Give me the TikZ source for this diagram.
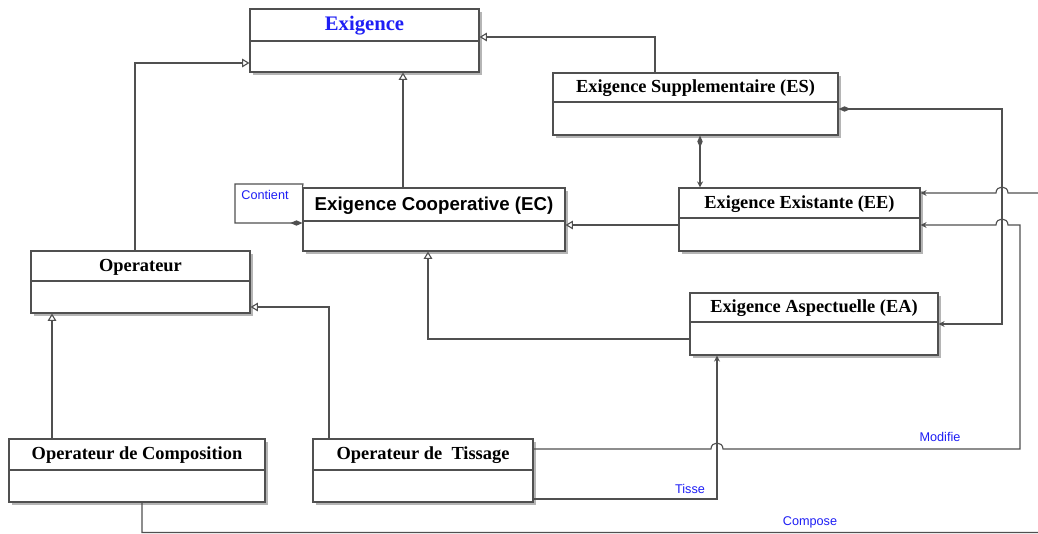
\documentclass[tikz,border=0pt]{standalone}
\usepackage{fontspec}
\setmainfont{Liberation Serif}
\newfontfamily\arialf{Liberation Sans}
\usetikzlibrary{arrows.meta,fit}
\definecolor{linec}{HTML}{505050}
\definecolor{shadowc}{HTML}{B5B5B5}
\definecolor{bluet}{HTML}{1E1EF5}
\tikzset{
  classbox/.style={draw=linec, line width=0.85pt, fill=white, inner sep=0pt},
  conn/.style={draw=linec, line width=0.85pt},
  gen/.style={conn, -{Triangle[open, length=5.5pt, width=6.5pt, fill=white]}},
  nav/.style={conn, -{Stealth[length=4.5pt, width=4.5pt]}},
  compnav/.style={conn, {Diamond[length=9pt, width=4pt]}-{Stealth[length=4.5pt, width=4.5pt]}},
  comp/.style={conn, {Diamond[length=9pt, width=4pt]}-},
  titlef/.style={font=\bfseries\fontsize{13.8}{15}\selectfont, inner sep=0pt},
  lbl/.style={font=\arialf\fontsize{9.5}{11}\selectfont, text=bluet, inner sep=0pt}
}
\newcommand\umlclass[8][]{%
  \fill[shadowc] ({#3+3},{#4+3}) rectangle ({#5+3},{#6+3});
  \node[classbox, fit={(#3,#4) (#5,#6)}] (#2) {};
  \draw[linec, line width=0.85pt] (#3,#7) -- (#5,#7);
  \node[titlef, #1] (#2-t) at ({(#3+#5)/2},{(#4+#7)/2+1}) {#8};
}
\begin{document}
\begin{tikzpicture}[x=0.75pt, y=-0.75pt]
\useasboundingbox[fill=white] (0,0) rectangle (1038,533);

% classes
\umlclass[text=bluet, font=\bfseries\fontsize{15.5}{17}\selectfont]{exig}{250}{9}{479}{72}{41}{Exigence}
\umlclass{es}{553}{73}{838}{135}{102}{Exigence Supplementaire (ES)}
\umlclass{ee}{679}{188}{920}{251}{218}{Exigence Existante (EE)}
\umlclass[font=\arialf\bfseries\fontsize{14}{16}\selectfont]{ec}{303}{188}{565}{251}{221}{Exigence Cooperative (EC)}
\umlclass{op}{31}{251}{250}{313}{281}{Operateur}
\umlclass{ea}{690}{293}{938}{355}{322}{Exigence Aspectuelle (EA)}
\umlclass{opc}{9}{439}{265}{502}{470}{Operateur de Composition}
\umlclass{opt}{313}{439}{533}{502}{470}{Operateur de \ Tissage}

% generalisations
\coordinate (k1) at (135,63);
\draw[gen] (op.north -| k1) -- (k1) -- (exig.west |- k1);
\coordinate (k2) at (403,0);
\draw[gen] (ec.north -| k2) -- (exig.south -| k2);
\coordinate (k3) at (655,37);
\draw[gen] (es.north -| k3) -- (k3) -- (exig.east |- k3);
\coordinate (k6) at (0,225);
\draw[gen] (ee.west |- k6) -- (ec.east |- k6);
\coordinate (k7) at (428,339);
\draw[gen] (ea.west |- k7) -- (k7) -- (ec.south -| k7);
\coordinate (k8) at (52,0);
\draw[gen] (opc.north -| k8) -- (op.south -| k8);
\coordinate (k9) at (329,307);
\draw[gen] (opt.north -| k9) -- (k9) -- (op.east |- k9);

% compositions
\coordinate (k4) at (700,0);
\draw[compnav] (es.south -| k4) -- (ee.north -| k4);
\coordinate (k5a) at (1002,109);
\coordinate (k5b) at (1002,324);
\draw[compnav] (es.east |- k5a) -- (k5a) -- (k5b) -- (ea.east |- k5b);

% Contient (self association)
\coordinate (ct1) at (235,223);
\coordinate (ct2) at (235,184);
\coordinate (ct3) at (303,184);
\draw[comp] (ec.west |- ct1) -- (ct1) -- (ct2) -- (ct3) -- (ec.north west);
\node[lbl] (lcont) at (265,195) {Contient};

% Modifie
\coordinate (m1) at (1020,449);
\coordinate (m2) at (1020,225);
\draw[nav] (opt.east |- m1) -- (711,449) .. controls (711,441) and (723,441) .. (723,449)
  -- (m1) -- (m2) -- (1008,225) .. controls (1008,217) and (996,217) .. (996,225)
  -- (ee.east |- m2);
\node[lbl] (lmod) at (940,437) {Modifie};

% Tisse
\coordinate (t1) at (717,499);
\draw[nav] (opt.east |- t1) -- (t1) -- (ea.south -| t1);
\node[lbl] (ltis) at (690,489) {Tisse};

% Compose
\coordinate (c1) at (142,532.5);
\coordinate (c2) at (1050,532.5);
\coordinate (c3) at (1050,193);
\draw[nav] (opc.south -| c1) -- (c1) -- (c2) -- (c3) -- (1008,193)
  .. controls (1008,185) and (996,185) .. (996,193) -- (ee.east |- c3);
\node[lbl] (lcomp) at (810,522) {Compose};
\end{tikzpicture}
\end{document}
